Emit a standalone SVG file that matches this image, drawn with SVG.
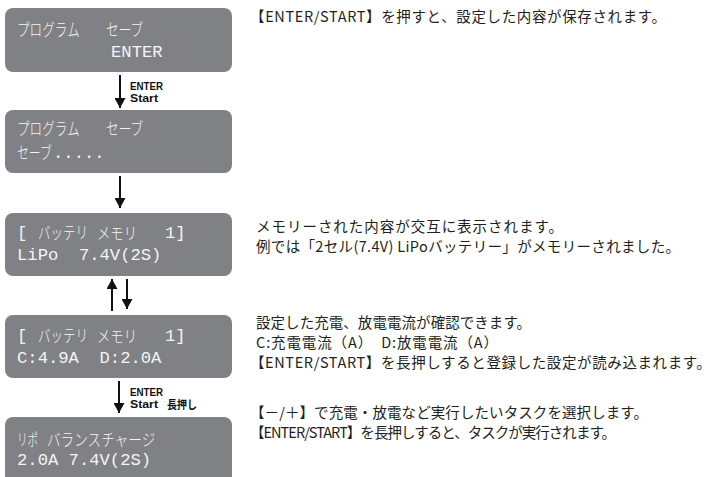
<svg xmlns="http://www.w3.org/2000/svg" width="710" height="477" viewBox="0 0 710 477">
<defs>
<style>
.box{fill:#808184;}
.mono{font-family:"Liberation Mono","DejaVu Sans Mono",monospace;font-size:17.2px;fill:#f4f4f4;}
.kana{font-family:"Noto Sans CJK JP",sans-serif;font-weight:300;font-size:16.5px;fill:#f4f4f4;}
.lbl{font-family:"Liberation Sans",Arial,sans-serif;font-weight:bold;font-size:11px;fill:#111;}
.lblj{font-family:"Noto Sans CJK JP",sans-serif;font-weight:bold;font-size:11.5px;fill:#111;}
.desc{font-family:"Noto Sans CJK JP",sans-serif;font-size:14.5px;fill:#231f20;}
.conn line{stroke:#111;stroke-width:2;}
</style>
<marker id="ah" markerUnits="userSpaceOnUse" markerWidth="11" markerHeight="11" refX="10" refY="5.5" orient="auto">
<path d="M0,0 L10,5.5 L0,11 z" fill="#111"/>
</marker>
</defs>
<rect width="710" height="477" fill="#ffffff"/>

<g id="node-save-enter">
<rect class="box" x="5" y="8" width="227" height="64" rx="8"/>
<text class="kana" transform="translate(17,35.5) scale(0.764,1)">プログラム</text>
<text class="kana" transform="translate(106,35.5) scale(0.768,1)">セーブ</text>
<text class="mono" x="111" y="57">ENTER</text>
</g>

<g id="node-saving">
<rect class="box" x="5" y="110" width="227" height="63" rx="8"/>
<text class="kana" transform="translate(17,135) scale(0.764,1)">プログラム</text>
<text class="kana" transform="translate(106,135) scale(0.768,1)">セーブ</text>
<text class="kana" transform="translate(17,159) scale(0.72,1)">セーブ</text>
<text class="mono" x="53" y="158">.....</text>
</g>

<g id="node-memory-type">
<rect class="box" x="5" y="213" width="227" height="63" rx="8"/>
<text class="mono" x="17" y="238">[</text>
<text class="kana" transform="translate(38,238.5) scale(0.758,1)">バッテリ</text>
<text class="kana" transform="translate(97,238.5) scale(0.808,1)">メモリ</text>
<text class="mono" x="165" y="238">1]</text>
<text class="mono" x="17" y="260" xml:space="preserve">LiPo  7.4V(2S)</text>
</g>

<g id="node-memory-current">
<rect class="box" x="5" y="315" width="227" height="63" rx="8"/>
<text class="mono" x="17" y="341">[</text>
<text class="kana" transform="translate(38,341.5) scale(0.758,1)">バッテリ</text>
<text class="kana" transform="translate(97,341.5) scale(0.808,1)">メモリ</text>
<text class="mono" x="165" y="341">1]</text>
<text class="mono" x="17" y="363" xml:space="preserve">C:4.9A  D:2.0A</text>
</g>

<g id="node-task">
<rect class="box" x="5" y="417" width="227" height="70" rx="8"/>
<text class="kana" transform="translate(17,445.5) scale(0.636,1)">リポ</text>
<text class="kana" transform="translate(47,445.5) scale(0.826,1)">バランスチャージ</text>
<text class="mono" x="17" y="465" xml:space="preserve">2.0A 7.4V(2S)</text>
</g>

<g id="connectors" class="conn">
<line x1="120" y1="75" x2="120" y2="108" marker-end="url(#ah)"/>
<line x1="120" y1="176" x2="120" y2="208" marker-end="url(#ah)"/>
<line x1="112" y1="311" x2="112" y2="279" marker-end="url(#ah)"/>
<line x1="127" y1="279" x2="127" y2="309" marker-end="url(#ah)"/>
<line x1="119" y1="381" x2="119" y2="413" marker-end="url(#ah)"/>
</g>

<g id="connector-labels">
<text class="lbl" x="130" y="90" textLength="33" lengthAdjust="spacingAndGlyphs">ENTER</text>
<text class="lbl" x="130" y="102" textLength="28" lengthAdjust="spacingAndGlyphs">Start</text>
<text class="lbl" x="130" y="396" textLength="33" lengthAdjust="spacingAndGlyphs">ENTER</text>
<text class="lbl" x="130" y="408" textLength="28" lengthAdjust="spacingAndGlyphs">Start</text>
<text class="lblj" x="167" y="408.5" textLength="30" lengthAdjust="spacingAndGlyphs">長押し</text>
</g>

<g id="descriptions">
<text class="desc" x="250" y="21.5" textLength="416" lengthAdjust="spacing">【ENTER/START】を押すと、設定した内容が保存されます。</text>
<text class="desc" x="256" y="231.5" textLength="307" lengthAdjust="spacing">メモリーされた内容が交互に表示されます。</text>
<text class="desc" x="256" y="251.5" textLength="424" lengthAdjust="spacing">例では「2セル(7.4V) LiPoバッテリー」がメモリーされました。</text>
<text class="desc" x="256" y="327.5" textLength="275" lengthAdjust="spacing">設定した充電、放電電流が確認できます。</text>
<text class="desc" x="256" y="347.5" textLength="242" lengthAdjust="spacing">C:充電電流（A）　D:放電電流（A）</text>
<text class="desc" x="250" y="367.5" textLength="461" lengthAdjust="spacing">【ENTER/START】を長押しすると登録した設定が読み込まれます。</text>
<text class="desc" x="250" y="417.5" textLength="398" lengthAdjust="spacing">【－/＋】で充電・放電など実行したいタスクを選択します。</text>
<text class="desc" x="250" y="437.5" textLength="366" lengthAdjust="spacing">【ENTER/START】を長押しすると、タスクが実行されます。</text>
</g>
</svg>
